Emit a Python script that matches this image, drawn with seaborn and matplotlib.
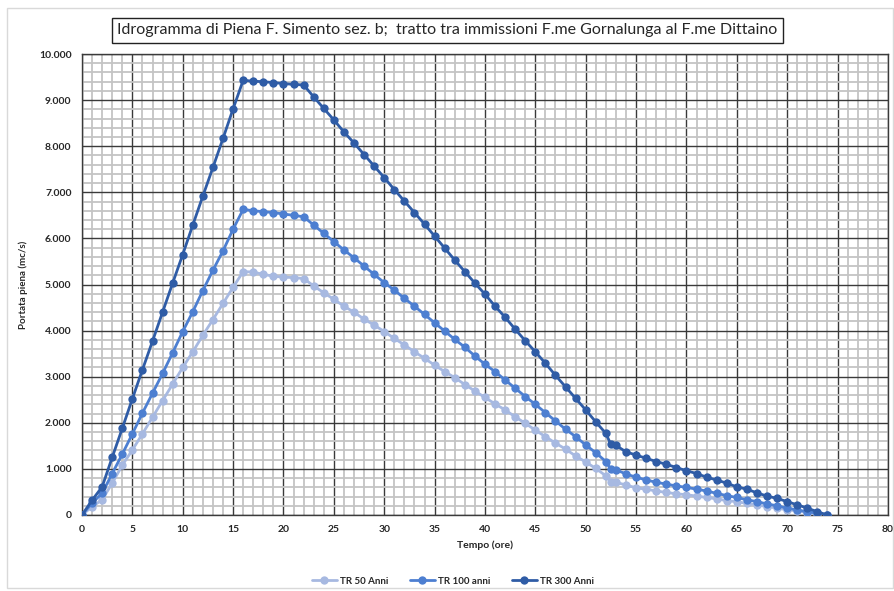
import numpy as np
import pandas as pd
import seaborn as sns
import matplotlib.pyplot as plt
from matplotlib.ticker import MultipleLocator, FuncFormatter
from matplotlib.patches import Rectangle

# Tempo (ore) - one point per hour plus the kink at 52.5
tempo = list(range(0, 53)) + [52.5] + list(range(53, 75))

tr50 = [0, 180, 330, 690, 1080, 1410, 1760, 2120, 2480, 2840,
        3200, 3540, 3900, 4240, 4590, 4940, 5280, 5270, 5220, 5180,
        5160, 5150, 5130, 4970, 4820, 4680, 4530, 4400, 4250, 4120,
        3980, 3830, 3690, 3540, 3400, 3250, 3110, 2980, 2830, 2690,
        2550, 2410, 2280, 2130, 1990, 1840, 1700, 1560, 1430, 1280,
        1150, 1010, 850, 720, 710, 650, 590, 560, 520, 490,
        460, 440, 410, 380, 350, 310, 290, 250, 220, 180,
        150, 110, 90, 50, 20, 0]

tr100 = [0, 260, 470, 900, 1320, 1760, 2210, 2640, 3070, 3520,
         3980, 4410, 4870, 5310, 5730, 6200, 6630, 6600, 6580, 6560,
         6530, 6500, 6470, 6290, 6110, 5930, 5750, 5580, 5400, 5220,
         5040, 4880, 4700, 4530, 4350, 4170, 3990, 3810, 3640, 3450,
         3270, 3110, 2930, 2750, 2570, 2400, 2220, 2040, 1860, 1700,
         1520, 1350, 1160, 990, 980, 890, 820, 760, 710, 670,
         630, 600, 560, 520, 470, 420, 380, 330, 290, 240,
         200, 150, 110, 70, 40, 0]

tr300 = [0, 320, 610, 1250, 1880, 2520, 3150, 3770, 4400, 5030,
         5650, 6290, 6920, 7540, 8170, 8810, 9430, 9410, 9400, 9380,
         9360, 9340, 9330, 9070, 8820, 8570, 8310, 8070, 7820, 7570,
         7320, 7060, 6810, 6560, 6310, 6050, 5790, 5530, 5280, 5030,
         4790, 4530, 4290, 4030, 3780, 3540, 3290, 3030, 2780, 2530,
         2280, 2020, 1770, 1530, 1510, 1370, 1300, 1230, 1160, 1100,
         1030, 960, 900, 820, 760, 690, 610, 560, 480, 410,
         360, 290, 220, 150, 70, 0]

series_names = ["TR 50 Anni", "TR 100 anni", "TR 300 Anni"]
colors = ["#a7b9e1", "#4d7fd1", "#2f5ca6"]

df = pd.concat([
    pd.DataFrame({"tempo": tempo, "portata": vals, "serie": name})
    for name, vals in zip(series_names, [tr50, tr100, tr300])
], ignore_index=True)

sns.set_style("white")
plt.rcParams['font.family'] = ['Lato', 'DejaVu Sans']

fig = plt.figure(figsize=(8.95, 5.91), dpi=100)
ax = fig.add_axes([0.0916, 0.1286, 0.9005, 0.78])

sns.lineplot(data=df, x="tempo", y="portata", hue="serie", palette=colors,
             hue_order=series_names, marker="o", markersize=6, markeredgewidth=0,
             linewidth=2, sort=False, estimator=None, ax=ax, zorder=5)

ax.set_xlim(0, 80)
ax.set_ylim(0, 10000)
ax.xaxis.set_major_locator(MultipleLocator(5))
ax.xaxis.set_minor_locator(MultipleLocator(1))
ax.yaxis.set_major_locator(MultipleLocator(1000))
ax.yaxis.set_minor_locator(MultipleLocator(200))
ax.yaxis.set_major_formatter(FuncFormatter(
    lambda v, p: "0" if v == 0 else f"{int(v):,}".replace(",", ".")))

ax.grid(which="minor", color="#c4c4c4", linewidth=1.3, zorder=0)
ax.grid(which="major", color="#3a3a3a", linewidth=1.0, zorder=1)
ax.set_axisbelow(True)
for s in ax.spines.values():
    s.set_color("#3a3a3a")
    s.set_linewidth(1.0)

ax.tick_params(axis="both", which="major", labelsize=7.5, length=4, color="#3a3a3a", direction="out")
ax.tick_params(axis="both", which="minor", length=2.5, color="#3a3a3a", direction="out")
for lbl in ax.get_xticklabels() + ax.get_yticklabels():
    lbl.set_fontweight("bold")

ax.set_xlabel("Tempo (ore)", fontsize=7.5, fontweight="bold", labelpad=4)
ax.set_ylabel("Portata piena (mc/s)", fontsize=7, fontweight="bold", labelpad=8)

handles, labels = ax.get_legend_handles_labels()
ax.legend(handles, labels, loc="upper center", bbox_to_anchor=(0.46, -0.115),
          ncol=3, frameon=False, prop={"size": 7, "weight": "bold"},
          handlelength=2.6, columnspacing=2.2, handletextpad=0.3)

fig.text(0.5, 0.949, "Idrogramma di Piena F. Simento sez. b;  tratto tra immissioni F.me Gornalunga al F.me Dittaino",
         ha="center", va="center", fontsize=11.5,
         bbox=dict(boxstyle="square,pad=0.35", facecolor="white", edgecolor="#222222", linewidth=1.0))

fig.patches.append(Rectangle((0.008, 0.005), 0.99, 0.982, transform=fig.transFigure,
                             fill=False, edgecolor="#d9d9d9", linewidth=1.0))

fig.savefig("out.png", dpi=100)
